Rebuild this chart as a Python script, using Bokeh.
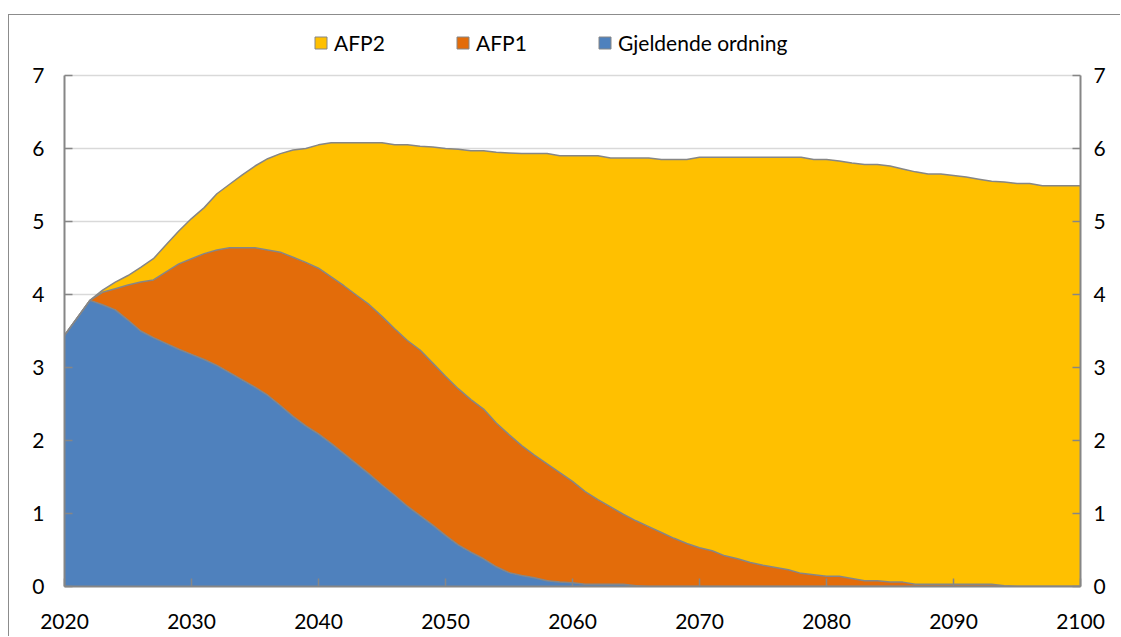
from bokeh.plotting import figure
from bokeh.models import (ColumnDataSource, LinearAxis, Legend, LegendItem,
                          FixedTicker, Range1d)
from bokeh.embed import file_html
from bokeh.resources import INLINE

years = list(range(2020, 2101))

gjeldende = [3.44, 3.68, 3.92, 3.86, 3.79, 3.65, 3.50, 3.41, 3.33, 3.25,
             3.18, 3.11, 3.03, 2.93, 2.83, 2.73, 2.62, 2.48, 2.33, 2.20,
             2.09, 1.96, 1.82, 1.68, 1.54, 1.39, 1.25, 1.10, 0.97, 0.84,
             0.70, 0.57, 0.47, 0.38, 0.27, 0.19, 0.15, 0.12, 0.08, 0.06,
             0.05, 0.03, 0.03, 0.03, 0.03, 0.01] + [0.0] * 35

afp1 = [0.0, 0.0, 0.0, 0.17, 0.29, 0.48, 0.67, 0.79, 0.98, 1.17,
        1.31, 1.45, 1.58, 1.71, 1.81, 1.91, 1.99, 2.10, 2.18, 2.24,
        2.27, 2.28, 2.30, 2.31, 2.32, 2.31, 2.28, 2.27, 2.27, 2.22,
        2.18, 2.14, 2.09, 2.05, 1.97, 1.89, 1.78, 1.68, 1.60, 1.50,
        1.39, 1.27, 1.16, 1.06, 0.96, 0.89, 0.82, 0.74, 0.66, 0.59,
        0.53, 0.49, 0.42, 0.38, 0.33, 0.29, 0.26, 0.23, 0.18, 0.16,
        0.14, 0.14, 0.11, 0.08, 0.08, 0.06, 0.06, 0.03, 0.03, 0.03,
        0.03, 0.03, 0.03, 0.03, 0.01, 0.0, 0.0, 0.0, 0.0, 0.0, 0.0]

afp2 = [0.0, 0.0, 0.0, 0.03, 0.09, 0.13, 0.20, 0.29, 0.37, 0.45,
        0.55, 0.63, 0.77, 0.87, 1.00, 1.12, 1.25, 1.35, 1.47, 1.56,
        1.69, 1.84, 1.96, 2.09, 2.22, 2.38, 2.52, 2.68, 2.79, 2.96,
        3.12, 3.28, 3.41, 3.54, 3.71, 3.86, 4.00, 4.13, 4.25, 4.34,
        4.46, 4.60, 4.71, 4.78, 4.88, 4.97, 5.05, 5.11, 5.19, 5.26,
        5.35, 5.39, 5.46, 5.50, 5.55, 5.59, 5.62, 5.65, 5.70, 5.69,
        5.71, 5.69, 5.69, 5.70, 5.70, 5.70, 5.66, 5.65, 5.62, 5.62,
        5.60, 5.58, 5.55, 5.52, 5.53, 5.52, 5.52, 5.49, 5.49, 5.49, 5.49]

series_names = ["Gjeldende ordning", "AFP1", "AFP2"]
colors = ["#4F81BD", "#E36C0A", "#FFC000"]
x_ticks = list(range(2020, 2101, 10))
y_ticks = list(range(0, 8))

FONT = "Lato"
FS = "21px"
GRAY = "#868686"

source = ColumnDataSource(dict(year=years, g=gjeldende, a1=afp1, a2=afp2))

# frame spans canvas y 28..586; value 7 sits at y=75 (room above for the legend)
y_top = 7 * 558 / 511

p = figure(width=1112, height=622, output_backend="svg", toolbar_location=None,
           x_range=Range1d(2020, 2100), y_range=Range1d(0, y_top),
           min_border_left=55, min_border_right=41, min_border_top=13,
           min_border_bottom=51)
p.styles = {"margin-left": "8px", "margin-top": "14px",
            "border-left": "1px solid #8C8C8C", "border-top": "1px solid #8C8C8C"}
p.outline_line_color = None
p.background_fill_color = "white"
p.border_fill_color = "white"

areas = p.varea_stack(stackers=["g", "a1", "a2"], x="year", color=colors, source=source)
p.vline_stack(stackers=["g", "a1", "a2"], x="year", color=GRAY, line_width=1.5, source=source)

# legend swatch proxies: one square each, placed outside the visible x range
proxies = []
for c in colors:
    r = p.quad(left=[1990], right=[1991], top=[1], bottom=[0],
               fill_color=c, line_color=GRAY, line_width=1)
    proxies.append(r)

items = [LegendItem(label=series_names[2], renderers=[proxies[2]]),
         LegendItem(label=series_names[1], renderers=[proxies[1]]),
         LegendItem(label=series_names[0], renderers=[proxies[0]])]
legend = Legend(items=items, orientation="horizontal", location=(249, 531),
                glyph_width=15, glyph_height=15, label_standoff=6, label_width=121,
                spacing=0, padding=0, margin=0, border_line_color=None,
                background_fill_alpha=0, label_text_font=FONT, label_text_font_size=FS,
                label_text_color="black")
p.add_layout(legend)

# axes
p.xaxis.ticker = FixedTicker(ticks=x_ticks)
p.yaxis.ticker = FixedTicker(ticks=y_ticks)
p.yaxis.bounds = (0, 7)
right = LinearAxis(ticker=FixedTicker(ticks=y_ticks), bounds=(0, 7))
p.add_layout(right, "right")

for ax in p.axis:
    ax.axis_line_color = GRAY
    ax.axis_line_width = 2
    ax.major_tick_line_color = GRAY
    ax.major_tick_line_width = 1.5
    ax.major_tick_in = 8
    ax.major_tick_out = 0
    ax.minor_tick_line_color = None
    ax.major_label_text_font = FONT
    ax.major_label_text_font_size = FS
    ax.major_label_text_color = "black"

p.xaxis.major_label_standoff = 27
p.yaxis[0].major_label_standoff = 20
right.major_label_standoff = 13

p.xgrid.grid_line_color = None
p.ygrid.grid_line_color = "#D9D9D9"
p.ygrid.grid_line_width = 1.5

open("out.html", "w").write(file_html(p, INLINE))
